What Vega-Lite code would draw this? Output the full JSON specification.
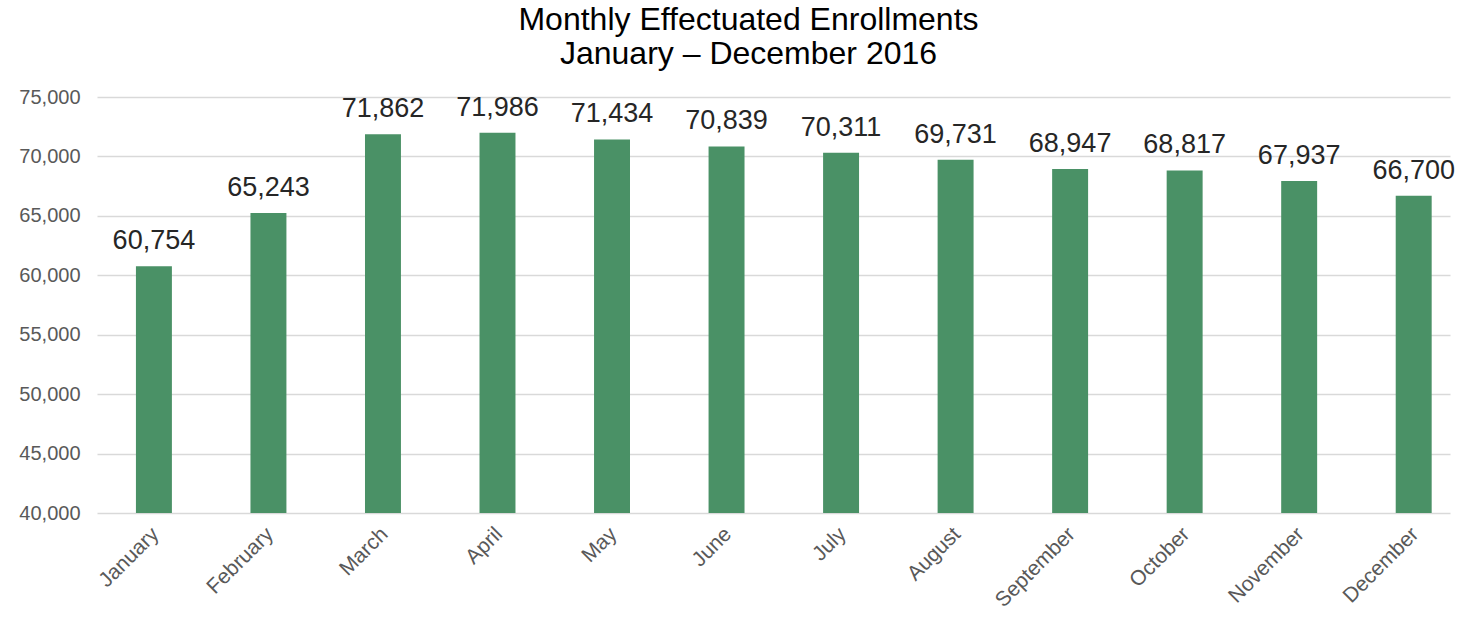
{
  "$schema": "https://vega.github.io/schema/vega-lite/v6.json",
  "autosize": "none",
  "width": 1353,
  "height": 416,
  "padding": {"left": 97, "top": 97, "right": 13, "bottom": 106},
  "background": "white",
  "title": {
    "text": ["Monthly Effectuated Enrollments", "January – December 2016"],
    "font": "Liberation Sans",
    "fontSize": 32,
    "fontWeight": "normal",
    "color": "#000000",
    "anchor": "middle",
    "dx": -25,
    "offset": 16,
    "lineHeight": 34
  },
  "data": {
    "values": [
      {"month": "January", "value": 60754},
      {"month": "February", "value": 65243},
      {"month": "March", "value": 71862},
      {"month": "April", "value": 71986},
      {"month": "May", "value": 71434},
      {"month": "June", "value": 70839},
      {"month": "July", "value": 70311},
      {"month": "August", "value": 69731},
      {"month": "September", "value": 68947},
      {"month": "October", "value": 68817},
      {"month": "November", "value": 67937},
      {"month": "December", "value": 66700}
    ]
  },
  "encoding": {
    "x": {
      "field": "month",
      "type": "nominal",
      "sort": null,
      "scale": {"paddingInner": 0.686, "paddingOuter": 0.25, "align": 0.68},
      "axis": {
        "title": null,
        "labelAngle": -45,
        "labelFont": "Liberation Sans",
        "labelFontSize": 21,
        "labelColor": "#595959",
        "ticks": false,
        "domain": false,
        "labelPadding": 10,
        "labelOffset": -6
      }
    },
    "y": {
      "field": "value",
      "type": "quantitative",
      "scale": {"domain": [40000, 75000], "zero": false, "clamp": true},
      "axis": {
        "title": null,
        "values": [40000, 45000, 50000, 55000, 60000, 65000, 70000, 75000],
        "format": ",.0f",
        "labelFont": "Liberation Sans",
        "labelFontSize": 20,
        "labelColor": "#595959",
        "ticks": false,
        "domain": false,
        "labelPadding": 17,
        "gridColor": "#d9d9d9",
        "gridWidth": 1.5
      }
    }
  },
  "layer": [
    {
      "mark": {"type": "bar", "color": "#4a9166"}
    },
    {
      "mark": {
        "type": "text",
        "baseline": "bottom",
        "dy": -11,
        "font": "Liberation Sans",
        "fontSize": 27,
        "color": "#262626"
      },
      "encoding": {
        "text": {"field": "value", "type": "quantitative", "format": ",.0f"}
      }
    }
  ],
  "config": {"view": {"stroke": null}}
}
